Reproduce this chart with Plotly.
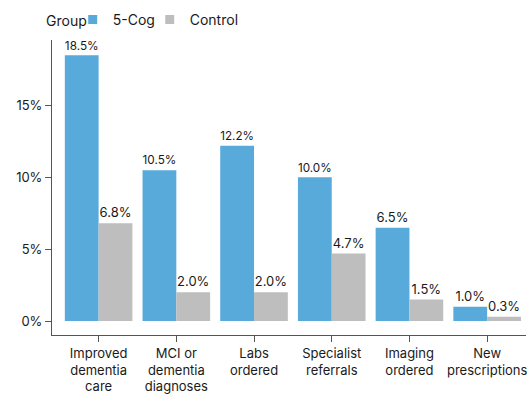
import plotly.graph_objects as go

categories = ["Improved<br>dementia<br>care", "MCI or<br>dementia<br>diagnoses", "Labs<br>ordered",
              "Specialist<br>referrals", "Imaging<br>ordered", "New<br>prescriptions"]
cog5 = [18.5, 10.5, 12.2, 10.0, 6.5, 1.0]
control = [6.8, 2.0, 2.0, 4.7, 1.5, 0.3]
ytick_vals = [0, 5, 10, 15]
ytick_text = ["0%", "5%", "10%", "15%"]

FONT = "Inter"
TXT = "#1a1a1a"
BLUE = "#58AADB"
GRAY = "#BEBEBE"

fig = go.Figure()
fig.add_trace(go.Bar(name="5-Cog", x=categories, y=cog5, marker_color=BLUE,
                     marker_line_width=0, texttemplate="%{y:.1f}%", textposition="outside",
                     textfont=dict(size=13, color=TXT, family=FONT), cliponaxis=False,
                     showlegend=False))
fig.add_trace(go.Bar(name="Control", x=categories, y=control, marker_color=GRAY,
                     marker_line_width=0, texttemplate="%{y:.1f}%", textposition="outside",
                     textfont=dict(size=13, color=TXT, family=FONT), cliponaxis=False,
                     showlegend=False))
# legend entries with small square swatches, each in its own legend box
for name, col, lg in [("5-Cog", BLUE, "legend"), ("Control", GRAY, "legend2")]:
    fig.add_trace(go.Scatter(name=name, x=[None], y=[None], mode="markers", legend=lg,
                             marker=dict(symbol="square", size=9, color=col), showlegend=True))

fig.add_annotation(text="Group", xref="paper", yref="paper", x=(44 - 52) / 475,
                   y=1 + (40 - 20) / 297, xanchor="left", yanchor="middle",
                   showarrow=False, font=dict(size=14, color=TXT))

leg_common = dict(orientation="h", xref="container", yref="container", y=0.99,
                  xanchor="left", yanchor="top", font=dict(size=14),
                  bgcolor="rgba(0,0,0,0)")
fig.update_layout(
    width=527, height=394,
    margin=dict(l=52, r=0, t=40, b=57),
    barmode="group", bargap=0.13, bargroupgap=0,
    plot_bgcolor="white", paper_bgcolor="white",
    font=dict(family=FONT, size=13, color=TXT),
    showlegend=True,
    legend=dict(x=0.138, **leg_common),
    legend2=dict(x=0.138 + 77 / 527, **leg_common),
)
fig.update_xaxes(range=[-0.6, 5.5], showline=True, linecolor="#555555", linewidth=1,
                 ticks="outside", ticklen=6, tickcolor="#555555", showgrid=False,
                 tickfont=dict(size=13, color=TXT), tickangle=0)
fig.update_yaxes(range=[-0.97, 19.56], showline=True, linecolor="#555555", linewidth=1,
                 ticks="outside", ticklen=6, tickcolor="#555555", showgrid=False,
                 zeroline=False, tickvals=ytick_vals, ticktext=ytick_text,
                 tickfont=dict(size=13, color=TXT))

fig.write_html("out.html")
